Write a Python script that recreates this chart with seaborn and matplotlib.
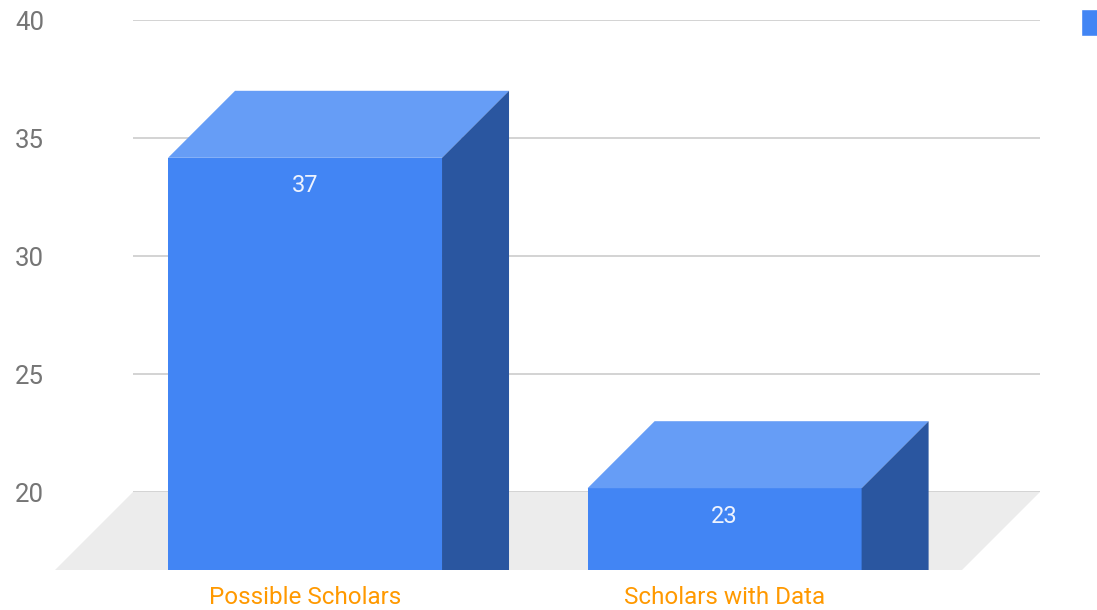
import matplotlib
matplotlib.use("Agg")
import matplotlib.pyplot as plt
import seaborn as sns
from matplotlib.patches import Polygon, Patch

# ── Data ──────────────────────────────────────────────────────────────────────
categories = ["Possible Scholars", "Scholars with Data"]
values = [37, 23]
y_ticks = [20, 25, 30, 35, 40]

# ── Style ─────────────────────────────────────────────────────────────────────
FRONT = "#4285f4"
TOP = "#669df6"
SIDE = "#2a56a0"
FLOOR = "#ececec"
GRID = "#cccccc"
TICK = "#757575"
CAT = "#ff9900"

sns.set_style("white")
plt.rcParams["font.family"] = ["Roboto", "DejaVu Sans"]

W, H, DPI = 1097, 610, 100
BAR_DEPTH = 67     # px, 3D offset of bars
FLOOR_DEPTH = 78   # px, 3D offset of floor

fig = plt.figure(figsize=(W / DPI, H / DPI), dpi=DPI)
ax = fig.add_axes([133 / W, 118 / H, (1040 - 133) / W, (492 - 20) / H])

sns.barplot(x=categories, y=values, color=FRONT, width=0.653, ax=ax,
            saturation=1, zorder=3)

xlim = (-0.5697, 1.592)
ax.set_xlim(*xlim)
ax.set_ylim(y_ticks[0], y_ticks[-1])
ax.set_yticks(y_ticks)
ax.set_xticks([])
ax.set_xlabel("")
ax.set_ylabel("")
sns.despine(ax=ax, left=True, bottom=True)
ax.yaxis.grid(True, color=GRID, lw=1.2, zorder=0)
ax.set_axisbelow(True)
ax.tick_params(axis="y", length=0, pad=64, labelsize=18.5, labelcolor=TICK)

# pixel -> data scale
px_x = ax.get_position().width * W / (xlim[1] - xlim[0])
px_y = ax.get_position().height * H / (y_ticks[-1] - y_ticks[0])
bdx, bdy = BAR_DEPTH / px_x, BAR_DEPTH / px_y
fdx, fdy = FLOOR_DEPTH / px_x, FLOOR_DEPTH / px_y

# floor
y0 = y_ticks[0]
floor = Polygon([(xlim[0], y0), (xlim[1], y0),
                 (xlim[1] - fdx, y0 - fdy), (xlim[0] - fdx, y0 - fdy)],
                closed=True, facecolor=FLOOR, edgecolor="none",
                zorder=1, clip_on=False)
ax.add_patch(floor)

# turn flat bars into 3D boxes (front face shifted down-left)
bottom = y0 - fdy  # front edge of the floor
for patch, val, cat in zip(ax.patches[:len(values)], values, categories):
    x0 = patch.get_x() - bdx
    w = patch.get_width()
    top_y = val - bdy
    patch.set_visible(False)
    front = Polygon([(x0, bottom), (x0 + w, bottom), (x0 + w, top_y), (x0, top_y)],
                    closed=True, facecolor=FRONT, edgecolor="none", zorder=4, clip_on=False)
    top = Polygon([(x0, top_y), (x0 + w, top_y), (x0 + w + bdx, val), (x0 + bdx, val)],
                  closed=True, facecolor=TOP, edgecolor="none", zorder=4, clip_on=False)
    side = Polygon([(x0 + w, top_y), (x0 + w + bdx, val),
                    (x0 + w + bdx, bottom), (x0 + w, bottom)],
                   closed=True, facecolor=SIDE, edgecolor="none", zorder=4, clip_on=False)
    for p in (front, top, side):
        ax.add_patch(p)
    cx = x0 + w / 2
    ax.annotate(str(val), xy=(cx, top_y), xytext=(0, -28),
                textcoords="offset pixels", ha="center", va="center",
                color="#eef3fe", fontsize=17, zorder=5, annotation_clip=False)
    ax.annotate(cat, xy=(cx, bottom), xytext=(0, -28),
                textcoords="offset pixels", ha="center", va="center",
                color=CAT, fontsize=17.5, zorder=5, annotation_clip=False)

# legend marker (its text lies beyond the right edge in the original)
fig.legend(handles=[Patch(facecolor=FRONT)], labels=[""],
           loc="upper left", bbox_to_anchor=(1081 / W, 1 - 9 / H),
           frameon=False, borderpad=0, borderaxespad=0,
           handlelength=1, handleheight=1.35, fontsize=17)

fig.savefig("out.png", dpi=DPI)
